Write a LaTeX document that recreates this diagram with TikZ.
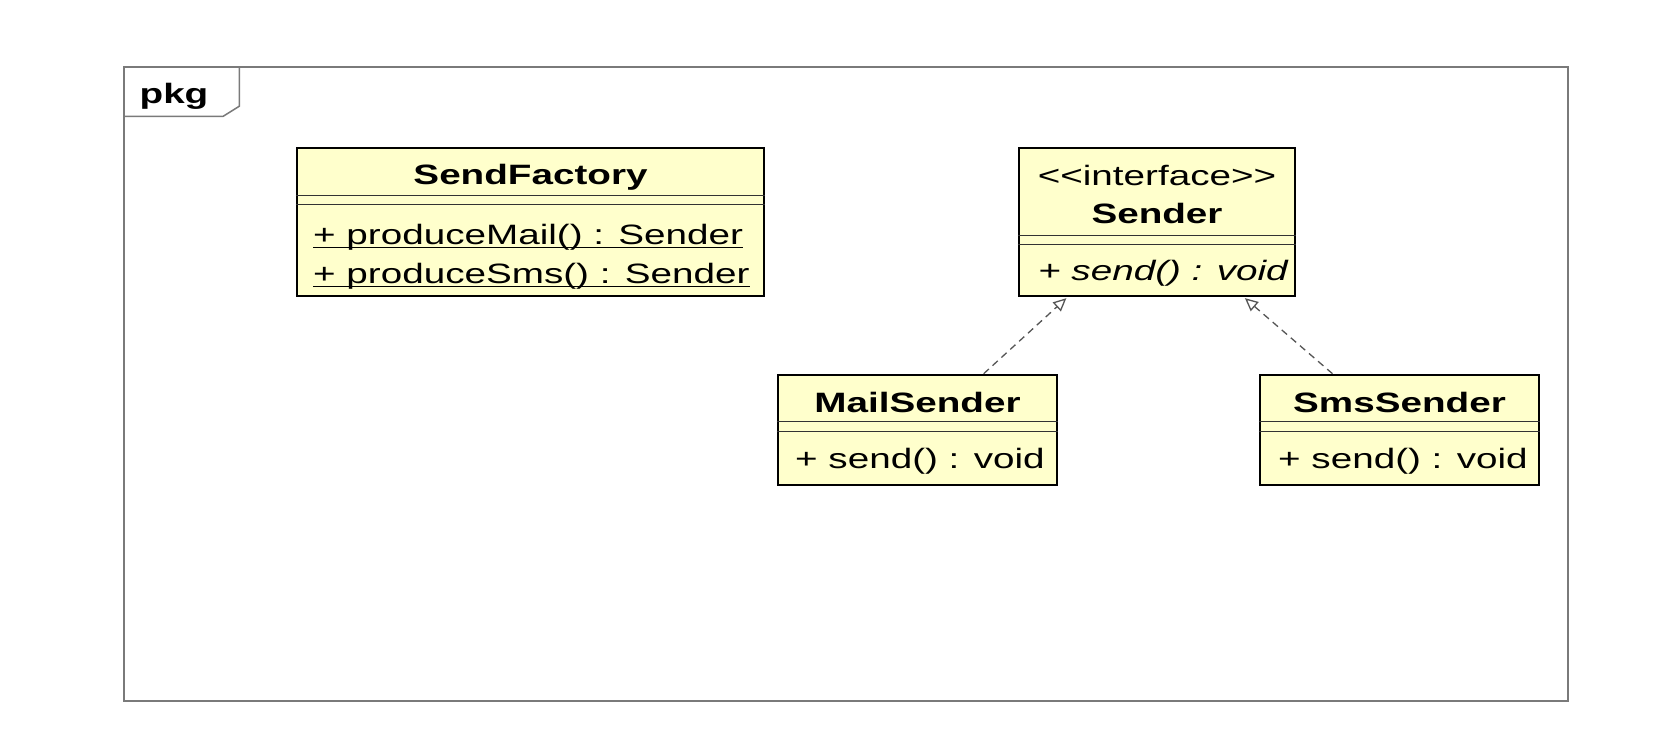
\documentclass[tikz,border=0pt]{standalone}
\usepackage{fontspec}
\setmainfont{Liberation Sans}[FakeStretch=1.38]
\usetikzlibrary{arrows.meta,calc}
\definecolor{classfill}{HTML}{FFFFCC}
\definecolor{framegray}{HTML}{7A7A7A}
\definecolor{arrowgray}{HTML}{555555}
\begin{document}
\begin{tikzpicture}[x=1pt,y=-1pt,
  classbox/.style={draw=black, line width=2.6pt, fill=classfill, inner sep=0pt},
  sepline/.style={draw=black!80, line width=1.3pt},
  lbl/.style={inner sep=0pt, font=\fontsize{28}{34}\selectfont},
  titlelbl/.style={inner sep=0pt, font=\fontsize{28}{34}\selectfont\bfseries, anchor=base},
  member/.style={lbl, anchor=base west},
  uline/.style={draw=black, line width=1.2pt},
  realize/.style={draw=arrowgray, line width=1.3pt, dash pattern=on 7pt off 5pt, shorten >=1.3pt,
    -{Triangle[open, length=13pt, width=12pt, line width=1.3pt]}},
  framebox/.style={draw=framegray, line width=1.5pt, inner sep=0pt},
]
\fill[white] (0,0) rectangle (1659,729);
\useasboundingbox (0,0) rectangle (1659,729);

% package frame
\node[framebox, minimum width=1444pt, minimum height=634pt] (pkgframe) at (846,384) {};
\draw[framegray, line width=1.5pt] (pkgframe.north west) ++(0,50) -- ++(100,0) -- ++(16,-10) -- ++(0,-40);
\node[titlelbl] (pkglbl) at (174,103) {pkg};

% SendFactory
\node[classbox, minimum width=467pt, minimum height=148pt] (sf) at (530.5,222) {};
\node[titlelbl] (sftitle) at (530.5,184) {SendFactory};
\draw[sepline] ([yshift=-49pt]sf.north west) -- ([yshift=-49pt]sf.north east);
\draw[sepline] ([yshift=-58pt]sf.north west) -- ([yshift=-58pt]sf.north east);
\node[member] (sfm1) at (313,244) {+ produceMail() : Sender};
\node[member] (sfm2) at (313,283) {+ produceSms() : Sender};
\draw[uline] ([yshift=-3.5pt]sfm1.base west) -- ([yshift=-3.5pt]sfm1.base east);
\draw[uline] ([yshift=-3.5pt]sfm2.base west) -- ([yshift=-3.5pt]sfm2.base east);

% Sender interface
\node[classbox, minimum width=276pt, minimum height=148pt] (snd) at (1157,222) {};
\node[lbl, anchor=base] (sndst) at (1157,185) {<{}<interface>{}>};
\node[titlelbl] (sndtitle) at (1157,223) {Sender};
\draw[sepline] ([yshift=-89pt]snd.north west) -- ([yshift=-89pt]snd.north east);
\draw[sepline] ([yshift=-98pt]snd.north west) -- ([yshift=-98pt]snd.north east);
\node[member, font=\fontsize{28}{34}\selectfont\itshape] (sndm1) at (1038,280) {+ send() : void};

% MailSender
\node[classbox, minimum width=279pt, minimum height=110pt] (ms) at (917.5,430) {};
\node[titlelbl] (mstitle) at (917.5,412) {MailSender};
\draw[sepline] ([yshift=-48pt]ms.north west) -- ([yshift=-48pt]ms.north east);
\draw[sepline] ([yshift=-58pt]ms.north west) -- ([yshift=-58pt]ms.north east);
\node[member] (msm1) at (795,468) {+ send() : void};

% SmsSender
\node[classbox, minimum width=279pt, minimum height=110pt] (ss) at (1399.5,430) {};
\node[titlelbl] (sstitle) at (1399.5,412) {SmsSender};
\draw[sepline] ([yshift=-48pt]ss.north west) -- ([yshift=-48pt]ss.north east);
\draw[sepline] ([yshift=-58pt]ss.north west) -- ([yshift=-58pt]ss.north east);
\node[member] (ssm1) at (1278,468) {+ send() : void};

% realizations
\draw[realize] ($(ms.north west)!0.735!(ms.north east)$) -- ($(snd.south west)!0.178!(snd.south east)$);
\draw[realize] ($(ss.north west)!0.262!(ss.north east)$) -- ($(snd.south west)!0.812!(snd.south east)$);
\end{tikzpicture}
\end{document}
